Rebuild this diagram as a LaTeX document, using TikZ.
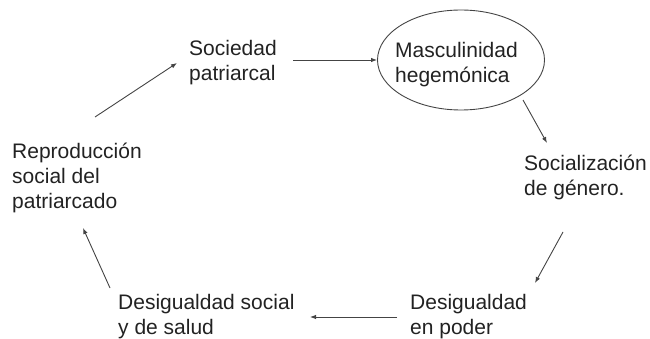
\documentclass[tikz,border=0pt]{standalone}
\usepackage{fontspec}
\setmainfont{Liberation Sans}
\usetikzlibrary{arrows.meta,shapes.geometric}
\definecolor{txtgray}{HTML}{222222}
\definecolor{linegray}{HTML}{444444}

\begin{document}
\begin{tikzpicture}[x=1pt,y=-1pt,
        txt/.style={anchor=base west,inner sep=0pt,align=left,text=txtgray,
                    font=\fontsize{21}{25}\selectfont},
        arr/.style={draw=linegray,line width=0.9pt,-{Latex[length=6pt,width=4.5pt]}}]
    \useasboundingbox (0,0) rectangle (650,339);
    % base = baseline of the last line
    \node[txt] (soc)  at (189,81)  {Sociedad\\patriarcal};
    \node[draw=linegray,line width=0.9pt,ellipse,minimum width=167pt,minimum height=100pt,inner sep=0pt]
        (masel) at (461,60) {};
    \node[txt] (mas)  at (395,83)  {Masculinidad\\hegemónica};
    \node[txt] (sgen) at (524,196) {Socialización\\de género.};
    \node[txt] (dpod) at (410,334) {Desigualdad\\en poder};
    \node[txt] (dsoc) at (118,334) {Desigualdad social\\y de salud};
    \node[txt] (rep)  at (12,208)  {Reproducción\\social del\\patriarcado};

    \draw[arr] ([shift={(83,-91)}]rep.base west) -- ([shift={(-12,-18)}]soc.base west);
    \draw[arr] ([shift={(104,-21)}]soc.base west) -- (masel.west);
    \draw[arr] ([shift={(62,40)}]masel.center) -- ([shift={(23,-53)}]sgen.base west);
    \draw[arr] ([shift={(39,36)}]sgen.base west) -- ([shift={(125,-51)}]dpod.base west);
    \draw[arr] ([shift={(-13,-17)}]dpod.base west) -- ([shift={(192,-17)}]dsoc.base west);
    \draw[arr] ([shift={(-8,-46)}]dsoc.base west) -- ([shift={(71,20)}]rep.base west);
\end{tikzpicture}
\end{document}
